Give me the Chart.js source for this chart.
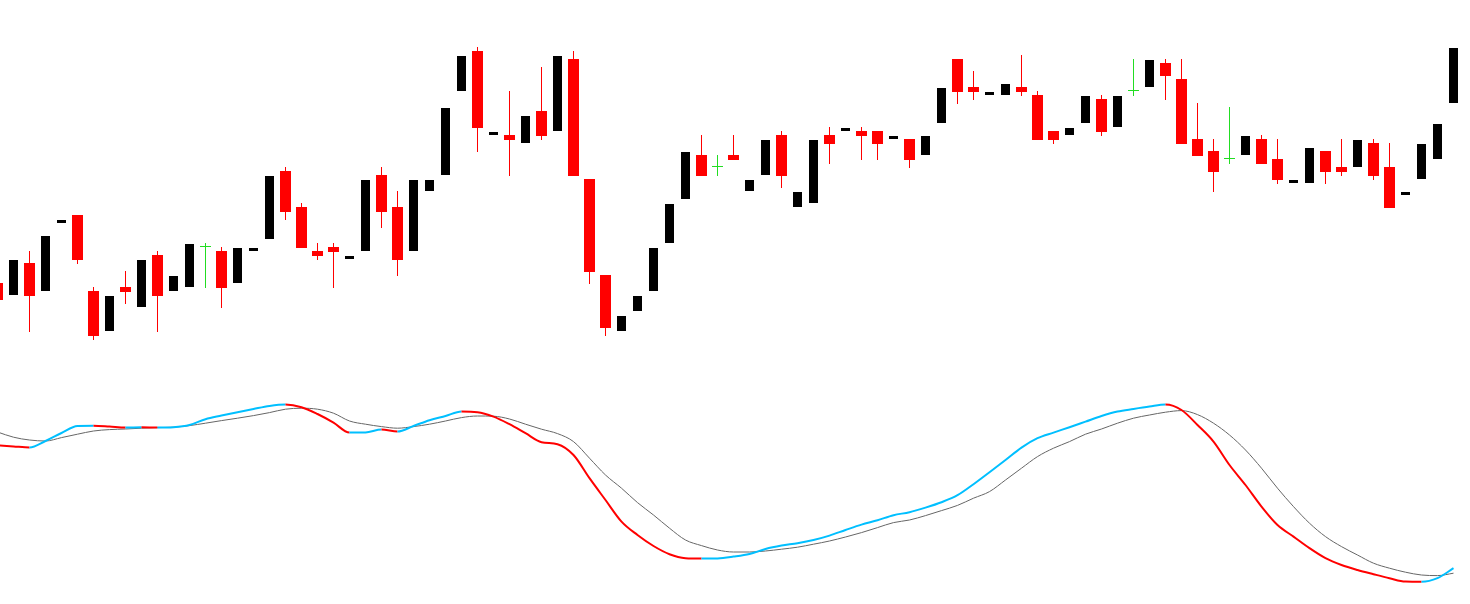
<!DOCTYPE html>
<html>
<head>
<meta charset="utf-8">
<title>Candles</title>
<script src="https://cdn.jsdelivr.net/npm/chart.js@4"></script>
<style>
  html, body { margin: 0; padding: 0; background: #fff; overflow: hidden; }
  canvas { display: block; }
</style>
</head>
<body>
<canvas id="chart" width="1470" height="604"></canvas>
<script>
// OHLC, one entry per bar
const opens = [106.7,105.5,108.7,105.9,112.7,113.5,105.9,101.9,106.3,104.3,109.5,105.9,106.3,110.3,109.9,106.7,109.9,111.1,117.9,114.3,
  109.9,110.3,109.1,109.9,117.5,114.3,109.9,115.9,117.5,125.9,129.9,121.5,121.5,120.7,123.9,121.9,129.1,117.1,107.5,101.9,
  103.9,105.9,110.7,115.1,119.5,118.3,119.5,115.9,117.5,121.5,114.3,114.7,121.5,121.9,121.9,121.9,121.1,121.1,119.5,122.7,
  129.1,126.3,125.5,125.5,126.3,125.5,121.9,121.5,122.7,125.1,122.3,125.9,126.3,128.7,127.1,121.1,119.9,119.1,119.5,121.1,
  119.1,116.7,116.7,119.9,118.3,118.3,120.7,118.3,115.5,117.1,119.1,124.7];
const highs = [106.7,109.0,109.9,111.4,113.0,113.5,106.3,105.4,107.9,109.0,109.9,107.4,110.6,110.7,110.3,110.2,110.2,117.4,118.3,114.7,
  110.7,110.7,109.4,117.0,118.3,115.9,117.0,117.0,124.2,129.4,130.3,121.8,125.9,123.4,128.3,129.4,129.9,117.1,107.5,103.4,
  105.4,110.2,114.6,119.8,121.5,119.5,121.5,117.0,121.0,121.9,115.8,121.0,122.3,122.2,122.3,121.9,121.4,121.1,121.4,126.2,
  129.1,127.9,125.8,126.6,129.5,125.9,121.9,122.2,125.4,125.5,125.4,129.1,129.0,129.1,129.1,124.7,121.1,124.3,121.4,121.5,
  121.1,117.0,120.2,119.9,121.1,121.0,121.1,120.7,115.8,120.6,122.6,130.2];
const lows = [105.0,105.5,101.8,105.9,112.7,108.6,101.0,101.9,104.6,104.3,101.8,105.9,106.3,106.2,104.2,106.7,109.9,111.1,113.0,110.2,
  109.0,106.2,109.1,109.9,112.2,107.4,109.9,115.9,117.5,125.9,119.8,121.5,117.4,120.7,121.0,121.9,117.4,106.6,101.4,101.9,
  103.9,105.9,110.7,115.1,117.4,117.4,119.0,115.9,117.5,116.2,114.3,114.7,118.6,121.9,119.0,119.0,121.1,118.2,119.5,122.7,
  124.6,125.0,125.5,125.5,125.4,121.0,120.6,121.5,122.7,121.4,122.3,125.4,126.3,125.0,120.6,119.4,115.8,118.6,119.5,118.6,
  116.6,116.7,116.7,116.6,117.4,118.3,117.0,114.2,115.5,117.1,119.1,124.7];
const closes = [105.0,109.0,105.4,111.4,113.0,109.0,101.4,105.4,105.8,109.0,105.4,107.4,110.6,110.3,106.2,110.2,110.2,117.4,113.8,110.2,
  109.4,109.8,109.4,117.0,113.8,109.0,117.0,117.0,124.2,129.4,122.2,121.8,121.0,123.4,121.4,129.4,117.4,107.8,102.2,103.4,
  105.4,110.2,114.6,119.8,117.4,118.3,119.0,117.0,121.0,117.4,115.8,121.0,120.6,122.2,121.4,120.6,121.4,119.0,121.4,126.2,
  125.8,125.8,125.8,126.6,125.8,121.0,121.0,122.2,125.4,121.8,125.4,125.9,129.0,127.4,120.6,119.4,117.8,119.1,121.4,118.6,
  117.0,117.0,120.2,117.8,117.8,121.0,117.4,114.2,115.8,120.6,122.6,130.2];

// oscillator panel (0..100)
const mainLine = [77.3,76.8,76.3,79.5,83.5,87.0,87.1,86.7,86.2,86.4,86.2,86.4,87.5,90.4,92.2,93.9,95.5,97.0,97.7,96.4,
  93.0,88.7,83.7,83.8,85.2,84.2,87.0,89.9,92.0,94.2,93.9,91.7,87.9,83.4,78.9,77.9,72.5,60.9,50.0,39.2,
  32.5,27.0,22.9,20.9,20.7,20.8,21.7,23.0,25.5,27.2,28.4,30.0,32.2,35.0,37.7,39.9,42.4,43.9,46.2,48.9,
  52.4,57.9,63.9,70.0,76.2,80.9,83.7,86.4,89.2,92.0,94.2,95.5,96.7,97.7,95.0,87.5,79.2,67.5,57.5,46.7,
  37.5,31.7,25.9,20.9,17.5,15.0,12.9,10.9,9.2,9.1,10.9,15.9];
const signalLine = [84.0,81.4,80.0,79.5,81.2,82.9,84.5,85.2,85.5,85.9,86.2,86.4,87.2,88.4,89.7,90.9,92.2,93.7,95.4,95.9,
  95.4,93.4,89.5,87.9,86.7,85.9,86.7,87.9,89.5,91.2,92.0,91.9,90.5,87.9,85.4,83.2,79.2,70.9,62.5,55.9,
  48.7,42.5,35.9,30.0,27.2,25.0,24.0,24.0,24.5,25.4,26.4,27.9,29.5,31.5,33.7,36.2,38.7,40.0,42.2,44.7,
  47.3,50.9,54.2,60.0,65.9,71.7,75.9,79.2,82.9,85.5,88.4,90.9,92.5,93.9,94.7,92.7,88.4,82.5,75.0,65.9,
  55.9,46.7,38.4,31.7,26.7,22.5,18.4,15.9,13.9,12.5,12.2,13.4];

const RED = '#ff0000', BLACK = '#000000', GREEN = '#22dd22', CYAN = '#00bfff', GRAY = '#666666';

const idx = opens.map((_, i) => i);
const up = idx.filter(i => closes[i] > opens[i]);
const down = idx.filter(i => closes[i] < opens[i]);
const doji = idx.filter(i => closes[i] === opens[i]);
const notUp = idx.filter(i => closes[i] <= opens[i]);

const barBase = { type: 'bar', grouped: false, borderWidth: 0, inflateAmount: 0, yAxisID: 'y' };
const lineBase = { type: 'line', yAxisID: 'y2', pointRadius: 0, fill: false, cubicInterpolationMode: 'monotone' };

// x window: first bar sits just off the left edge
const xMin = 0.15625, xMax = xMin + 1470 / 16;

new Chart(document.getElementById('chart'), {
  type: 'bar',
  data: {
    datasets: [
      { ...barBase, order: 3, barThickness: 1,
        data: notUp.map(i => ({ x: i, y: [lows[i], highs[i]] })),
        backgroundColor: ctx => (ctx.raw && closes[ctx.raw.x] === opens[ctx.raw.x]) ? GREEN : RED },
      { ...barBase, order: 2, barThickness: 11, backgroundColor: RED,
        data: down.map(i => ({ x: i, y: [opens[i], closes[i]] })) },
      { ...barBase, order: 2, barThickness: 9, backgroundColor: BLACK,
        data: up.map(i => ({ x: i, y: [opens[i], closes[i]] })) },
      { ...barBase, order: 2, barThickness: 11, minBarLength: 1, backgroundColor: GREEN,
        data: doji.map(i => ({ x: i, y: [opens[i], closes[i]] })) },
      { ...lineBase, order: 1, borderColor: GRAY, borderWidth: 1,
        data: signalLine.map((v, i) => ({ x: i, y: v })) },
      { ...lineBase, order: 0, borderWidth: 2, borderColor: CYAN,
        segment: { borderColor: ctx => ctx.p1.parsed.y < ctx.p0.parsed.y ? RED : CYAN },
        data: mainLine.map((v, i) => ({ x: i, y: v })) }
    ]
  },
  options: {
    responsive: false,
    animation: false,
    layout: { padding: 0 },
    plugins: { legend: { display: false }, tooltip: { enabled: false } },
    scales: {
      x: { type: 'linear', min: xMin, max: xMax, offset: false, display: false },
      y: { type: 'linear', min: 74.6, max: 135, display: false },
      y2: { type: 'linear', min: -2, max: 300, display: false }
    }
  }
});
</script>
</body>
</html>
